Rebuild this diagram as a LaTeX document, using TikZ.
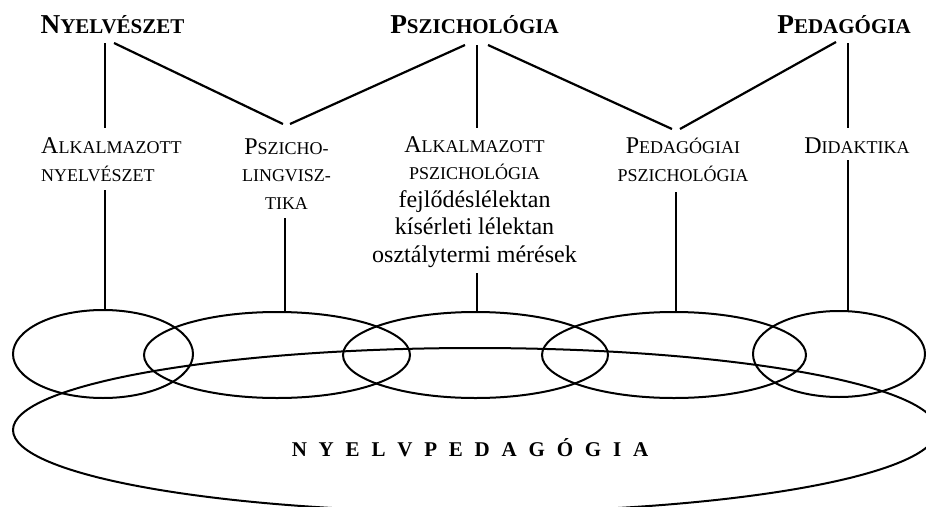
\documentclass[tikz,border=0pt]{standalone}
\usepackage{fontspec}
\setmainfont{Liberation Serif}
\usetikzlibrary{shapes.geometric}
\newcommand\smc[1]{{\fontsize{18}{27.5}\selectfont #1}}
\newcommand\smcb[1]{{\fontsize{21}{30}\selectfont\bfseries #1}}
\begin{document}
\begin{tikzpicture}[x=1pt,y=-1pt,
  title/.style={inner sep=0pt,font=\fontsize{27.3}{30}\selectfont\bfseries},
  lab/.style={inner sep=0pt,align=center,font=\fontsize{24}{27.5}\selectfont},
  conn/.style={line width=2.2pt},
  oval/.style={line width=2pt}]
\useasboundingbox (0,0) rectangle (926,506);
\clip (0,0) rectangle (926,506);
% titles
\node[title,anchor=base] (t1) at (112.5,33) {N\smcb{YELVÉSZET}};
\node[title,anchor=base] (t2) at (474.5,33) {P\smcb{SZICHOLÓGIA}};
\node[title,anchor=base] (t3) at (844,33) {P\smcb{EDAGÓGIA}};
% labels (anchor = baseline of the last line)
\node[lab,align=left,anchor=base west] (l1) at (41,181) {A\smc{LKALMAZOTT}\\\smc{NYELVÉSZET}};
\node[lab,anchor=base] (l2) at (286.5,209) {P\smc{SZICHO-}\\\smc{LINGVISZ-}\\\smc{TIKA}};
\node[lab,anchor=base] (l3) at (474.5,262) {A\smc{LKALMAZOTT}\\\smc{PSZICHOLÓGIA}\\fejlődéslélektan\\kísérleti lélektan\\osztálytermi mérések};
\node[lab,anchor=base] (l4) at (683,181) {P\smc{EDAGÓGIAI}\\\smc{PSZICHOLÓGIA}};
\node[lab,anchor=base] (l5) at (857,153) {D\smc{IDAKTIKA}};
% big loop
\node[ellipse,draw,oval,minimum width=924,minimum height=164,inner sep=0pt] (big) at (475,430) {};
\node[inner sep=0pt,anchor=base,font=\fontsize{21}{24}\selectfont\bfseries] (np) at (470,456)
  {\spaceskip=11.8pt N Y E L V P E D A G Ó G I A};
% small ellipses
\node[ellipse,draw,oval,minimum width=180,minimum height=88,inner sep=0pt] (e1) at (103,354) {};
\node[ellipse,draw,oval,minimum width=266,minimum height=86,inner sep=0pt] (e2) at (277,355) {};
\node[ellipse,draw,oval,minimum width=265,minimum height=86,inner sep=0pt] (e3) at (475.5,355) {};
\node[ellipse,draw,oval,minimum width=264,minimum height=86,inner sep=0pt] (e4) at (674,355) {};
\node[ellipse,draw,oval,minimum width=172,minimum height=86,inner sep=0pt] (e5) at (839,354) {};
% connector end points
\coordinate (a1) at (105,43);  \coordinate (b1) at (105,128);
\coordinate (a2) at (114,43);  \coordinate (b2) at (283,124);
\coordinate (a3) at (465,45);  \coordinate (b3) at (290,124);
\coordinate (a4) at (477,45);  \coordinate (b4) at (477,128);
\coordinate (a5) at (488,45);  \coordinate (b5) at (672,129);
\coordinate (a6) at (836,42);  \coordinate (b6) at (680,129);
\coordinate (a7) at (848,43);  \coordinate (b7) at (848,128);
\coordinate (c1) at (105,190); \coordinate (d1) at (105,310);
\coordinate (c2) at (285,218); \coordinate (d2) at (285,312);
\coordinate (c3) at (477,273); \coordinate (d3) at (477,312);
\coordinate (c4) at (676,192); \coordinate (d4) at (676,312);
\coordinate (c5) at (848,160); \coordinate (d5) at (848,311);
\foreach \i in {1,...,7} \draw[conn] (a\i) -- (b\i);
\foreach \i in {1,...,5} \draw[conn] (c\i) -- (d\i);
\end{tikzpicture}
\end{document}
